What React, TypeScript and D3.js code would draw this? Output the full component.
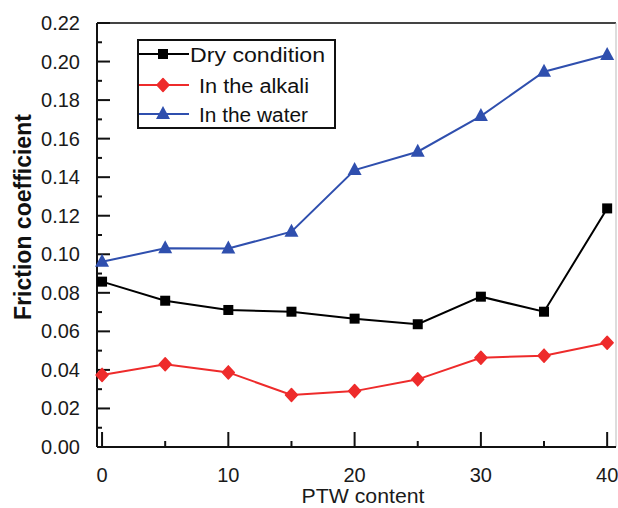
import React from "react";
import * as d3 from "d3";

const ptw = [0, 5, 10, 15, 20, 25, 30, 35, 40];
const dryCondition = [0.0858, 0.0759, 0.0711, 0.0702, 0.0666, 0.0637, 0.078, 0.0702, 0.1238];
const inAlkali = [0.0374, 0.0429, 0.0387, 0.027, 0.029, 0.0351, 0.0463, 0.0474, 0.0541];
const inWater = [0.0961, 0.1031, 0.103, 0.1117, 0.1437, 0.1532, 0.1717, 0.1947, 0.2034];
const yTicks = [0, 0.02, 0.04, 0.06, 0.08, 0.1, 0.12, 0.14, 0.16, 0.18, 0.2, 0.22];
const yMinor = [0.01, 0.03, 0.05, 0.07, 0.09, 0.11, 0.13, 0.15, 0.17, 0.19, 0.21];
const xTicks = [0, 10, 20, 30, 40];
const xMinor = [5, 15, 25, 35];
const seriesNames = ["Dry condition", "In the alkali", "In the water"];

const W = 618, H = 508;
const L = 97, R = 616, T = 23, B = 447;

export default function App() {
  const x = d3.scaleLinear().domain([-0.4, 40.7]).range([L, R]);
  const y = d3.scaleLinear().domain([0, 0.22]).range([B, T]);
  const font = "'Liberation Sans', Arial, sans-serif";
  const series = [
    { name: seriesNames[0], vals: dryCondition, color: "#000000", marker: "square" },
    { name: seriesNames[1], vals: inAlkali, color: "#ee2b2b", marker: "diamond" },
    { name: seriesNames[2], vals: inWater, color: "#2f4fae", marker: "triangle" },
  ];
  const line = d3.line<number>().x((_, i) => x(ptw[i])).y((d) => y(d));
  const marker = (type: string, cx: number, cy: number, color: string, key: any) => {
    if (type === "square")
      return <rect key={key} x={cx - 5} y={cy - 5} width={10} height={10} fill={color} />;
    if (type === "diamond")
      return (
        <path key={key} d={`M${cx},${cy - 6.5}L${cx + 6},${cy}L${cx},${cy + 6.5}L${cx - 6},${cy}Z`} fill={color} stroke={color} strokeWidth={1.5} strokeLinejoin="round" />
      );
    return <path key={key} d={`M${cx},${cy - 8}L${cx + 7},${cy + 5}L${cx - 7},${cy + 5}Z`} fill={color} />;
  };
  const legendRows = [54, 85, 114];
  const legendTextX = [190, 199, 199];
  const legendTextLen = [135, 110, 109];
  return (
    <div style={{ position: "fixed", left: 0, top: 0 }}>
      <svg width={W} height={H} style={{ display: "block", background: "#fff" }}>
        {/* frame */}
        <line x1={L} x2={R} y1={T} y2={T} stroke="#444" strokeWidth={2} />
        <line x1={R} x2={R} y1={T} y2={B} stroke="#bbb" strokeWidth={1} />
        <line x1={L} x2={R} y1={B} y2={B} stroke="#111" strokeWidth={2} />
        <line x1={L} x2={L} y1={T} y2={B} stroke="#111" strokeWidth={2} />
        {/* y ticks */}
        {yTicks.map((t) => (
          <g key={"yt" + t}>
            <line x1={L} x2={L + 13} y1={y(t)} y2={y(t)} stroke="#111" strokeWidth={2} />
            <text x={80} y={y(t)} dy="0.35em" textAnchor="end" fontFamily={font} fontSize={20} fill="#1a1a1a">
              {t.toFixed(2)}
            </text>
          </g>
        ))}
        {yMinor.map((t) => (
          <line key={"ym" + t} x1={L} x2={L + 5} y1={y(t)} y2={y(t)} stroke="#111" strokeWidth={2} />
        ))}
        {/* x ticks */}
        {xTicks.map((t) => (
          <g key={"xt" + t}>
            <line x1={x(t)} x2={x(t)} y1={B} y2={B - 15} stroke="#111" strokeWidth={2} />
            <text x={x(t)} y={482} textAnchor="middle" fontFamily={font} fontSize={20} fill="#1a1a1a">
              {t}
            </text>
          </g>
        ))}
        {xMinor.map((t) => (
          <line key={"xm" + t} x1={x(t)} x2={x(t)} y1={B} y2={B - 6} stroke="#111" strokeWidth={2} />
        ))}
        {/* axis titles */}
        <text x={363} y={503} textAnchor="middle" fontFamily={font} fontSize={20} fill="#1a1a1a" textLength={123} lengthAdjust="spacingAndGlyphs">
          PTW content
        </text>
        <text transform="translate(31,217) rotate(-90)" textAnchor="middle" fontFamily={font} fontSize={23} fontWeight="bold" fill="#111">
          Friction coefficient
        </text>
        {/* series */}
        {series.map((s) => (
          <g key={s.name}>
            <path d={line(s.vals) || ""} fill="none" stroke={s.color} strokeWidth={2} />
            {s.vals.map((v, i) => marker(s.marker, x(ptw[i]), y(v), s.color, i))}
          </g>
        ))}
        {/* legend */}
        <rect x={138} y={40} width={197} height={88} fill="#fff" stroke="#111" strokeWidth={2} />
        {series.map((s, i) => (
          <g key={"lg" + s.name}>
            <line x1={139} x2={189} y1={legendRows[i]} y2={legendRows[i]} stroke={s.color} strokeWidth={2} />
            {marker(s.marker, 163, legendRows[i], s.color, "m")}
            <text x={legendTextX[i]} y={legendRows[i] + 8} fontFamily={font} fontSize={20} fill="#111" textLength={legendTextLen[i]} lengthAdjust="spacingAndGlyphs">
              {s.name}
            </text>
          </g>
        ))}
      </svg>
    </div>
  );
}
